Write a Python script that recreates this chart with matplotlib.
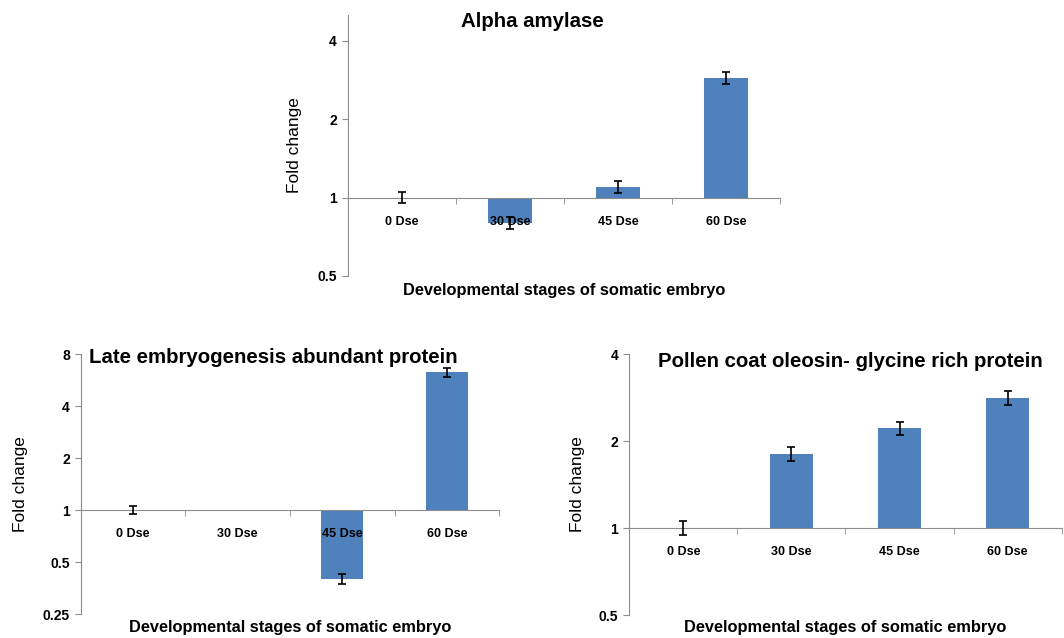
import numpy as np
import matplotlib
matplotlib.use("Agg")
import matplotlib.pyplot as plt
from matplotlib.ticker import FixedLocator, FixedFormatter, NullLocator

# stages on the x axis
stages = ["0 Dse", "30 Dse", "45 Dse", "60 Dse"]

# fold change and error bars
alpha_vals = [1.0, 0.80, 1.10, 2.89]
alpha_err = [0.05, 0.045, 0.055, 0.15]

lea_vals = [1.0, 1.0, 0.40, 6.26]
lea_err = [0.05, 0.0, 0.025, 0.37]

pollen_vals = [1.0, 1.81, 2.21, 2.82]
pollen_err = [0.055, 0.10, 0.11, 0.15]

bar_col = "#4F81BD"
axis_col = "#8C8C8C"
xlab = "Developmental stages of somatic embryo"


def panel(rect, vals, err, title, ylim, yticks, ytlabels, title_pos, ylab_x, xlab_y):
    ax = fig.add_axes(rect)
    ax.set_yscale("log")
    x = np.arange(len(stages))
    v = np.array(vals)
    e = np.array(err)
    ax.bar(x, v - 1, bottom=1, width=0.4, color=bar_col, edgecolor="none", zorder=1)
    # no error bar drawn where there is none
    m = e > 0
    ax.errorbar(x[m], v[m], yerr=e[m], fmt="none", ecolor="black", elinewidth=1.2,
                capsize=3, capthick=1.2, zorder=3)
    ax.set_xlim(-0.5, len(stages) - 0.5)
    ax.set_ylim(*ylim)

    for s in ["top", "right"]:
        ax.spines[s].set_visible(False)
    ax.spines["bottom"].set_position(("data", 1))
    ax.spines["bottom"].set_color(axis_col)
    ax.spines["left"].set_color(axis_col)

    ax.yaxis.set_major_locator(FixedLocator(yticks))
    ax.yaxis.set_major_formatter(FixedFormatter(ytlabels))
    ax.yaxis.set_minor_locator(NullLocator())
    ax.tick_params(axis="y", which="major", length=4, color=axis_col, pad=4,
                   labelsize=10)
    for t in ax.get_yticklabels():
        t.set_fontweight("bold")

    ax.set_xticks(x)
    ax.set_xticklabels(stages, fontsize=9, fontweight="bold")
    ax.set_xticks(np.arange(len(stages) + 1) - 0.5, minor=True)
    ax.tick_params(axis="x", which="major", length=0, pad=13)
    ax.tick_params(axis="x", which="minor", length=4, color=axis_col)

    ax.text(title_pos[0], title_pos[1], title, transform=ax.transAxes,
            ha="center", va="center", fontsize=14.7, fontweight="bold")
    ax.text(ylab_x, 0.5, "Fold change", transform=ax.transAxes, rotation=90,
            ha="center", va="center", fontsize=12.5)
    ax.text(0.5, xlab_y, xlab, transform=ax.transAxes, ha="center",
            va="center", fontsize=11.8, fontweight="bold")
    return ax


plt.rcParams["font.family"] = ["Liberation Sans", "DejaVu Sans"]
fig = plt.figure(figsize=(10.64, 6.38), dpi=100)

panel([0.327, 0.5674, 0.406, 0.4091], alpha_vals, alpha_err, "Alpha amylase",
      (0.5, 5.03), [0.5, 1, 2, 4], ["0.5", "1", "2", "4"],
      (0.426, 0.974), -0.123, -0.054)

panel([0.0761, 0.0376, 0.3929, 0.4075], lea_vals, lea_err,
      "Late embryogenesis abundant protein",
      (0.25, 8), [0.25, 0.5, 1, 2, 4, 8], ["0.25", "0.5", "1", "2", "4", "8"],
      (0.459, 0.988), -0.1435, -0.05)

panel([0.5914, 0.036, 0.4064, 0.4091], pollen_vals, pollen_err,
      "Pollen coat oleosin- glycine rich protein",
      (0.5, 4), [0.5, 1, 2, 4], ["0.5", "1", "2", "4"],
      (0.511, 0.970), -0.12, -0.046)

fig.savefig("out.png", dpi=100)
